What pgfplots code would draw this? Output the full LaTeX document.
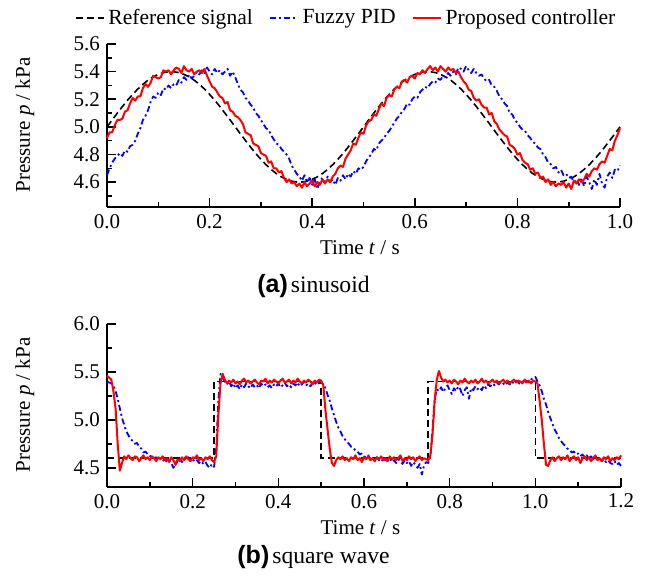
\documentclass[border=0pt]{standalone}
\usepackage{fontspec}
\setmainfont{Liberation Serif}
\setsansfont{Liberation Sans}
\usepackage{pgfplots}
\pgfplotsset{compat=1.18}

\pgfplotsset{
  panel/.style={
    scale only axis, anchor=south west,
    axis lines=left, axis line style={-, line width=1bp},
    enlargelimits=false, clip=false,
    tick align=inside,
    major tick length=4.5bp, minor tick length=2.5bp,
    tick style={black, line width=0.8bp},
    ticklabel style={font=\fontsize{10.5bp}{12bp}\selectfont},
    label style={font=\fontsize{10.5bp}{12bp}\selectfont},
    /pgf/number format/assume math mode=true,
    xticklabel style={/pgf/number format/.cd, fixed, fixed zerofill, precision=1},
    yticklabel style={/pgf/number format/.cd, fixed, fixed zerofill, precision=1},
    xlabel style={at={(axis description cs:0.493,-0.252)}, anchor=center},
    ylabel style={at={(axis description cs:-0.16,0.503)}, anchor=center},
    xlabel={Time \textit{t} / s},
    ylabel={Pressure \textit{p} / kPa},
    legend image code/.code={\draw[#1] (0bp,0bp) -- (14bp,0bp);},
  },
  refline/.style={black, line width=0.8bp, dash pattern=on 3.5bp off 2bp},
  fuzzy/.style={blue, line width=0.9bp, line join=round, dash pattern=on 3bp off 1.5bp on 1bp off 1.5bp},
  proposed/.style={red, line width=1bp, line join=round},
}

\begin{document}
\begin{tikzpicture}
\useasboundingbox (0,0) rectangle (323bp,288.5bp);

% (a) sinusoid
\begin{axis}[panel,
  at={(53.5bp,185bp)}, width=256.5bp, height=81.5bp,
  xmin=0, xmax=1, ymin=4.42, ymax=5.6,
  xtick={0,0.2,0.4,0.6,0.8,1.0}, minor xtick={0.1,0.3,0.5,0.7,0.9},
  ytick={4.6,4.8,5.0,5.2,5.4,5.6}, minor ytick={4.5,4.7,4.9,5.1,5.3,5.5},
  legend columns=3,
  legend style={at={(axis description cs:0.468,1.159)}, anchor=center,
    draw=none, fill=none, font=\fontsize{10.8bp}{12bp}\selectfont,
    /tikz/every even column/.append style={column sep=6bp}},
]
\addplot[refline] table[row sep=\\, x expr=\coordindex*0.01, y index=0] {p\\
5.000\\5.050\\5.099\\5.147\\5.193\\5.235\\5.274\\5.308\\5.338\\5.362\\
5.380\\5.393\\5.399\\5.399\\5.393\\5.380\\5.362\\5.338\\5.308\\5.274\\
5.235\\5.193\\5.147\\5.099\\5.050\\5.000\\4.950\\4.901\\4.853\\4.807\\
4.765\\4.726\\4.692\\4.662\\4.638\\4.620\\4.607\\4.601\\4.601\\4.607\\
4.620\\4.638\\4.662\\4.692\\4.726\\4.765\\4.807\\4.853\\4.901\\4.950\\
5.000\\5.050\\5.099\\5.147\\5.193\\5.235\\5.274\\5.308\\5.338\\5.362\\
5.380\\5.393\\5.399\\5.399\\5.393\\5.380\\5.362\\5.338\\5.308\\5.274\\
5.235\\5.193\\5.147\\5.099\\5.050\\5.000\\4.950\\4.901\\4.853\\4.807\\
4.765\\4.726\\4.692\\4.662\\4.638\\4.620\\4.607\\4.601\\4.601\\4.607\\
4.620\\4.638\\4.662\\4.692\\4.726\\4.765\\4.807\\4.853\\4.901\\4.950\\
5.000\\};
\addlegendentry{Reference signal}
\addplot[fuzzy] table[row sep=\\, x expr=\coordindex*0.005, y index=0] {p\\
4.65\\4.70\\4.74\\4.77\\4.79\\4.81\\4.79\\4.83\\4.82\\4.86\\
4.87\\4.90\\4.95\\4.99\\5.05\\5.08\\5.12\\5.18\\5.22\\5.21\\
5.25\\5.23\\5.28\\5.27\\5.30\\5.28\\5.31\\5.30\\5.34\\5.32\\
5.36\\5.34\\5.38\\5.35\\5.37\\5.40\\5.38\\5.41\\5.39\\5.43\\
5.40\\5.38\\5.42\\5.39\\5.41\\5.38\\5.40\\5.42\\5.37\\5.40\\
5.36\\5.31\\5.27\\5.25\\5.21\\5.19\\5.16\\5.14\\5.10\\5.08\\
5.05\\5.02\\4.99\\4.98\\4.94\\4.91\\4.88\\4.87\\4.84\\4.82\\
4.80\\4.77\\4.72\\4.69\\4.66\\4.64\\4.61\\4.65\\4.60\\4.63\\
4.58\\4.62\\4.55\\4.61\\4.63\\4.59\\4.64\\4.60\\4.62\\4.58\\
4.63\\4.61\\4.65\\4.62\\4.66\\4.64\\4.68\\4.66\\4.70\\4.69\\
4.71\\4.75\\4.78\\4.80\\4.84\\4.83\\4.88\\4.90\\4.92\\4.95\\
4.97\\5.00\\5.03\\5.06\\5.08\\5.11\\5.13\\5.17\\5.16\\5.20\\
5.22\\5.21\\5.25\\5.27\\5.29\\5.28\\5.31\\5.33\\5.32\\5.35\\
5.34\\5.37\\5.36\\5.39\\5.37\\5.40\\5.38\\5.43\\5.42\\5.40\\
5.44\\5.41\\5.39\\5.42\\5.39\\5.37\\5.38\\5.35\\5.33\\5.34\\
5.30\\5.29\\5.26\\5.22\\5.20\\5.17\\5.15\\5.10\\5.09\\5.05\\
5.03\\5.00\\4.98\\4.97\\4.94\\4.92\\4.89\\4.88\\4.85\\4.84\\
4.80\\4.78\\4.74\\4.73\\4.70\\4.71\\4.67\\4.69\\4.65\\4.66\\
4.63\\4.64\\4.60\\4.62\\4.58\\4.63\\4.57\\4.64\\4.60\\4.55\\
4.62\\4.58\\4.66\\4.59\\4.56\\4.64\\4.67\\4.63\\4.69\\4.68\\
4.72\\};
\addlegendentry{Fuzzy PID}
\addplot[proposed] table[row sep=\\, x expr=\coordindex*0.005, y index=0] {p\\
4.92\\4.96\\4.96\\5.01\\5.05\\5.05\\5.06\\5.11\\5.12\\5.17\\
5.21\\5.19\\5.22\\5.22\\5.28\\5.31\\5.29\\5.32\\5.37\\5.36\\
5.35\\5.36\\5.41\\5.40\\5.41\\5.38\\5.41\\5.43\\5.42\\5.39\\
5.44\\5.41\\5.40\\5.42\\5.38\\5.40\\5.41\\5.39\\5.42\\5.37\\
5.33\\5.29\\5.28\\5.25\\5.22\\5.21\\5.17\\5.18\\5.12\\5.11\\
5.08\\5.07\\5.05\\5.02\\4.96\\4.95\\4.94\\4.88\\4.87\\4.86\\
4.81\\4.80\\4.79\\4.74\\4.75\\4.70\\4.70\\4.67\\4.68\\4.63\\
4.60\\4.62\\4.59\\4.60\\4.57\\4.59\\4.56\\4.60\\4.57\\4.59\\
4.61\\4.57\\4.60\\4.58\\4.62\\4.59\\4.62\\4.60\\4.64\\4.66\\
4.70\\4.72\\4.71\\4.77\\4.80\\4.83\\4.88\\4.87\\4.92\\4.96\\
4.95\\5.01\\5.04\\5.05\\5.09\\5.08\\5.13\\5.17\\5.15\\5.21\\
5.23\\5.22\\5.27\\5.29\\5.28\\5.33\\5.34\\5.32\\5.36\\5.37\\
5.35\\5.39\\5.38\\5.41\\5.39\\5.42\\5.44\\5.41\\5.43\\5.40\\
5.44\\5.42\\5.40\\5.43\\5.41\\5.42\\5.39\\5.40\\5.36\\5.33\\
5.31\\5.27\\5.26\\5.21\\5.19\\5.20\\5.16\\5.14\\5.14\\5.09\\
5.10\\5.04\\5.02\\4.98\\4.96\\4.94\\4.93\\4.87\\4.86\\4.84\\
4.80\\4.81\\4.76\\4.74\\4.73\\4.69\\4.70\\4.66\\4.67\\4.63\\
4.64\\4.60\\4.62\\4.58\\4.60\\4.57\\4.59\\4.58\\4.60\\4.56\\
4.59\\4.55\\4.61\\4.59\\4.62\\4.60\\4.62\\4.66\\4.64\\4.68\\
4.70\\4.69\\4.73\\4.75\\4.74\\4.79\\4.84\\4.83\\4.90\\4.94\\
4.99\\};
\addlegendentry{Proposed controller}
\end{axis}

% (b) square wave
\begin{axis}[panel,
  at={(53.5bp,45bp)}, width=257bp, height=81.5bp,
  xmin=0, xmax=1.2, ymin=4.3, ymax=6.0,
  xtick={0,0.2,0.4,0.6,0.8,1.0,1.2}, minor xtick={0.1,0.3,0.5,0.7,0.9,1.1},
  ytick={4.5,5.0,5.5,6.0}, minor ytick={4.75,5.25,5.75},
]
\addplot[refline] coordinates {
(0,4.6) (0.25,4.6) (0.25,5.4) (0.5,5.4) (0.5,4.6) (0.75,4.6)
(0.75,5.4) (1.0,5.4) (1.0,4.6) (1.2,4.6)};
\addplot[fuzzy] table[row sep=\\, x expr=\coordindex*0.005, y index=0] {p\\
5.40\\5.39\\5.38\\5.36\\5.30\\5.22\\5.12\\5.02\\4.95\\4.88\\
4.84\\4.80\\4.78\\4.75\\4.76\\4.72\\4.70\\4.66\\4.67\\4.64\\
4.62\\4.63\\4.60\\4.61\\4.58\\4.60\\4.57\\4.59\\4.56\\4.58\\
4.55\\4.50\\4.53\\4.57\\4.59\\4.56\\4.60\\4.58\\4.61\\4.57\\
4.59\\4.56\\4.58\\4.55\\4.57\\4.54\\4.56\\4.52\\4.50\\4.54\\
4.51\\4.70\\5.20\\5.48\\5.44\\5.40\\5.37\\5.40\\5.35\\5.38\\
5.33\\5.36\\5.32\\5.37\\5.34\\5.38\\5.35\\5.33\\5.37\\5.34\\
5.36\\5.33\\5.38\\5.35\\5.37\\5.34\\5.36\\5.33\\5.37\\5.35\\
5.38\\5.34\\5.36\\5.39\\5.35\\5.37\\5.34\\5.38\\5.36\\5.39\\
5.35\\5.37\\5.40\\5.36\\5.38\\5.35\\5.39\\5.37\\5.40\\5.38\\
5.39\\5.37\\5.33\\5.26\\5.20\\5.12\\5.05\\4.98\\4.92\\4.88\\
4.83\\4.80\\4.77\\4.75\\4.72\\4.71\\4.68\\4.67\\4.64\\4.65\\
4.62\\4.61\\4.63\\4.59\\4.60\\4.57\\4.61\\4.58\\4.60\\4.56\\
4.59\\4.57\\4.60\\4.56\\4.58\\4.55\\4.59\\4.57\\4.54\\4.58\\
4.55\\4.57\\4.52\\4.56\\4.53\\4.50\\4.54\\4.43\\4.52\\4.56\\
4.55\\4.62\\4.90\\5.22\\5.32\\5.30\\5.34\\5.29\\5.33\\5.36\\
5.31\\5.27\\5.33\\5.30\\5.35\\5.32\\5.25\\5.31\\5.34\\5.22\\
5.33\\5.31\\5.35\\5.32\\5.34\\5.31\\5.36\\5.33\\5.37\\5.35\\
5.38\\5.36\\5.39\\5.37\\5.40\\5.38\\5.36\\5.39\\5.37\\5.40\\
5.38\\5.41\\5.39\\5.37\\5.40\\5.38\\5.41\\5.39\\5.42\\5.44\\
5.45\\5.40\\5.36\\5.30\\5.22\\5.16\\5.08\\5.02\\4.96\\4.90\\
4.86\\4.81\\4.78\\4.75\\4.73\\4.70\\4.69\\4.66\\4.67\\4.64\\
4.65\\4.62\\4.64\\4.61\\4.63\\4.60\\4.62\\4.59\\4.61\\4.58\\
4.60\\4.57\\4.59\\4.56\\4.58\\4.55\\4.54\\4.57\\4.53\\4.55\\
4.52\\};
\addplot[proposed] table[row sep=\\, x expr=\coordindex*0.005, y index=0] {p\\
5.46\\5.44\\5.42\\5.30\\5.12\\4.75\\4.47\\4.55\\4.62\\4.59\\
4.63\\4.60\\4.58\\4.62\\4.61\\4.57\\4.60\\4.63\\4.59\\4.61\\
4.58\\4.62\\4.60\\4.57\\4.61\\4.59\\4.62\\4.58\\4.60\\4.56\\
4.61\\4.58\\4.53\\4.59\\4.57\\4.61\\4.58\\4.62\\4.59\\4.57\\
4.61\\4.60\\4.63\\4.58\\4.60\\4.57\\4.61\\4.59\\4.62\\4.58\\
4.56\\4.62\\5.05\\5.38\\5.48\\5.42\\5.38\\5.41\\5.39\\5.42\\
5.38\\5.40\\5.37\\5.41\\5.43\\5.39\\5.41\\5.38\\5.40\\5.42\\
5.39\\5.37\\5.41\\5.40\\5.43\\5.38\\5.41\\5.39\\5.42\\5.40\\
5.38\\5.41\\5.43\\5.39\\5.40\\5.42\\5.38\\5.41\\5.39\\5.43\\
5.40\\5.38\\5.41\\5.39\\5.42\\5.40\\5.37\\5.41\\5.39\\5.42\\
5.41\\5.36\\5.10\\4.90\\4.70\\4.55\\4.52\\4.58\\4.61\\4.59\\
4.62\\4.58\\4.60\\4.57\\4.61\\4.59\\4.63\\4.58\\4.60\\4.56\\
4.61\\4.59\\4.62\\4.58\\4.60\\4.57\\4.61\\4.59\\4.62\\4.58\\
4.60\\4.57\\4.62\\4.59\\4.61\\4.58\\4.60\\4.63\\4.57\\4.60\\
4.58\\4.62\\4.59\\4.61\\4.57\\4.60\\4.62\\4.58\\4.60\\4.59\\
4.58\\4.63\\4.85\\5.20\\5.42\\5.51\\5.44\\5.40\\5.42\\5.39\\
5.41\\5.38\\5.42\\5.40\\5.37\\5.41\\5.39\\5.43\\5.40\\5.38\\
5.41\\5.39\\5.42\\5.38\\5.40\\5.43\\5.39\\5.41\\5.38\\5.40\\
5.42\\5.39\\5.41\\5.38\\5.40\\5.42\\5.39\\5.41\\5.38\\5.40\\
5.42\\5.39\\5.41\\5.40\\5.38\\5.42\\5.39\\5.41\\5.38\\5.41\\
5.40\\5.38\\5.20\\5.00\\4.75\\4.53\\4.52\\4.58\\4.61\\4.57\\
4.60\\4.62\\4.58\\4.61\\4.59\\4.63\\4.57\\4.60\\4.62\\4.58\\
4.61\\4.55\\4.60\\4.62\\4.58\\4.61\\4.57\\4.60\\4.63\\4.58\\
4.60\\4.57\\4.61\\4.59\\4.62\\4.57\\4.60\\4.58\\4.61\\4.59\\
4.63\\};
\end{axis}

% panel captions
\node[anchor=west, inner sep=0pt] at (128.5bp,145.5bp)
  {{\fontsize{12.5bp}{14bp}\selectfont\sffamily\bfseries (a)}\kern1.5bp{\fontsize{11.8bp}{14bp}\selectfont sinusoid}};
\node[anchor=west, inner sep=0pt] at (118.5bp,10bp)
  {{\fontsize{12.5bp}{14bp}\selectfont\sffamily\bfseries (b)}\kern1.5bp{\fontsize{11.8bp}{14bp}\selectfont square wave}};
\end{tikzpicture}
\end{document}
